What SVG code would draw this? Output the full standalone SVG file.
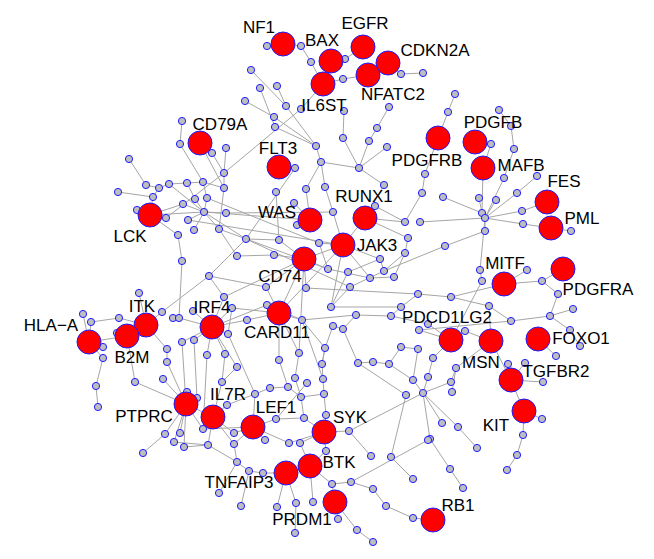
<svg xmlns="http://www.w3.org/2000/svg" width="654" height="559" viewBox="0 0 654 559">
<style>
.e path{stroke:#a6a6a6;stroke-width:1;fill:none}
.s{fill:#bebebe;stroke:#1c1cff;stroke-width:1}
.b{fill:#ff0000;stroke:#1c1cff;stroke-width:1}
.t{font-family:"Liberation Sans",Arial,Helvetica,sans-serif;font-size:17px;fill:#000;text-anchor:middle}
</style>
<rect width="654" height="559" fill="#fff"/>
<g id="edges" class="e">
<path d="M283,44L267,46M283,44L301,46M301,46L311,62M311,62L323,84M331,61L345,59M345,59L363,47M323,84L343,79M343,79L368,75M368,75L388,63M388,63L401,74M401,74L423,73M323,84L301,109M301,109L224,173M251,70L286,106M277,86L286,106M286,106L316,146M245,101L274,117M274,117L316,146M260,88L275,127M275,127L316,146M316,146L321,162M321,162L359,168M321,162L325,187M344,111L343,138M343,138L359,168M389,107L377,128M377,128L369,141M369,141L359,168M387,147L359,168M359,168L384,185M279,167L295,168M226,148L224,173M212,153L224,173M224,173L224,188M200,143L212,153M200,143L224,188M182,121L180,144M180,144L203,182M129,159L146,185M146,185L159,188M159,188L169,184M169,184L187,183M187,183L203,182M203,182L224,188M118,192L153,197M153,197L150,215M137,210L150,215M159,188L153,197"/>
<path d="M150,215L166,218M150,215L204,212M150,215L183,204M150,215L178,235M166,218L224,173M204,212L183,204M204,212L195,199M204,212L207,198M204,212L226,213M204,212L188,220M204,212L194,230M204,212L219,229M204,212L169,184M204,212L246,239M204,212L310,220M187,183L195,199M203,182L207,198M224,188L219,229M219,229L237,256M178,235L182,261M182,261L179,318M209,276L162,312M209,276L246,239M246,239L279,240M279,240L304,259M276,192L279,240M294,203L310,220M297,225L310,220M306,189L310,220M188,220L343,245M207,198L319,243M226,213L333,212M237,256L274,255M274,255L304,259M295,168L246,239M325,187L333,212M365,218L375,206M365,218L384,185M375,206L343,245M343,245L319,243M343,245L380,259M333,212L343,245M343,245L304,259M365,218L405,222M405,222L422,193M422,193L425,174M425,174L438,138M438,138L448,112M448,112L455,94M443,197L482,213M420,222L485,218M408,238L405,253M405,253L384,271M380,259L384,271M485,231L445,246M445,246L384,271"/>
<path d="M485,218L485,231M482,213L485,218M479,198L482,213M496,200L485,218M517,193L485,218M537,176L517,193M504,178L485,218M514,149L504,178M511,126L514,149M499,110L511,126M475,142L491,144M491,144L483,168M483,168L482,213M547,202L522,211M522,211L485,218M551,228L523,224M523,224L485,218M551,228L571,231M485,218L480,270M480,270L482,281M482,281L451,340M504,284L527,270M504,284L542,281M542,281L558,294M558,294L550,316M550,316L573,309M550,316L570,330M570,330L580,346M550,316L511,321M511,321L419,330M504,284L451,297M451,297L418,294M451,297L489,306M489,306L511,321M538,339L556,356M563,269L542,281M451,340L428,324M451,340L419,330M451,340L433,358M451,340L465,331M491,341L465,331M491,341L489,306M491,341L456,368M491,341L511,380M511,380L508,364M511,380L525,363M511,380L543,382M511,380L524,411M524,411L542,419M524,411L523,435M523,435L517,455M517,455L507,470"/>
<path d="M433,358L428,377M418,349L413,380M401,347L418,349M428,377L423,393M413,380L423,393M451,382L423,393M452,392L456,368M423,393L442,423M423,393L458,427M458,427L477,448M423,393L430,439M430,439L450,469M450,469L463,488M451,382L456,368M391,457L406,395M391,457L413,479M371,456L349,431M349,431L324,432M326,415L324,432M326,451L324,432M349,431L423,393M332,484L351,482M351,482L428,440M373,489L386,506M386,506L413,518M413,518L433,520M335,502L338,519M335,502L357,530M357,530L373,542M335,502L332,484M310,466L313,502M310,466L286,473M286,473L263,473M286,473L277,507M286,473L296,503M296,503L295,533M263,473L249,471M249,471L241,506M237,462L219,493M237,462L249,471M234,444L237,462M310,466L326,451M310,466L300,443M310,466L332,484M351,482L373,489"/>
<path d="M253,427L276,419M253,427L265,440M253,427L234,433M253,427L234,444M253,427L289,443M253,427L255,394M276,419L304,418M304,418L324,432M289,443L324,432M300,443L324,432M276,419L307,383M255,394L270,388M270,388L288,387M288,387L301,397M301,397L324,394M324,394L326,415M323,379L324,394M295,378L301,397M295,378L299,353M322,364L323,379M322,364L325,348M279,360L288,387M279,360L279,313M299,353L279,313M237,367L222,382M222,382L213,417M213,417L227,405M227,405L255,394M213,417L234,433M213,417L234,444M213,417L208,445M213,417L186,404M186,404L187,392M186,404L197,398M186,404L165,434M186,404L180,433M186,404L203,429M186,404L174,442M186,404L184,447M184,447L208,445M174,442L208,445M165,434L143,453M203,429L253,427M208,445L237,462"/>
<path d="M135,382L186,404M127,336L135,382M163,379L186,404M167,362L186,404M167,349L167,362M146,325L167,349M182,342L186,404M182,342L212,327M194,340L212,327M207,355L212,327M225,354L212,327M228,334L212,327M247,320L212,327M267,305L212,327M224,297L212,327M212,327L237,367M193,311L212,327M179,318L212,327M173,318L179,318M162,312L146,325M146,325L139,293M119,318L146,325M91,322L119,318M89,342L91,322M89,342L83,314M89,342L127,336M89,342L103,347M89,342L103,358M103,358L96,386M96,386L98,407M117,333L127,336M146,325L127,336"/>
<path d="M279,313L266,287M279,313L247,320M279,313L302,320M279,313L232,308M232,308L212,327M266,287L304,259M302,320L356,315M356,315L391,316M391,316L428,324M306,288L304,259M306,288L418,294M331,307L348,272M348,272L380,259M328,269L304,259M328,269L370,278M370,278L394,277M394,277L405,253M350,287L384,271M350,287L331,307M401,307L418,294M401,307L391,316M343,329L356,315M333,326L343,329M333,326L325,348M343,329L358,363M325,348L322,364M358,363L373,362M373,362L389,364M389,364L401,347M389,364L413,380M358,363L406,395M209,276L266,287M224,297L304,259M246,239L350,287M219,229L328,269M304,259L279,313M343,245L331,307M343,245L370,278M319,243L328,269M365,218L408,238M405,222L375,206M306,189L321,162"/>
<path d="M304,259L299,353M343,245L279,313M224,297L209,276M232,308L228,334M207,355L203,429M225,354L222,382M194,340L197,398M228,334L255,394M302,320L323,379M301,397L304,418M302,320L325,348M401,307L331,307M267,305L302,320"/>
</g>
<g id="small-nodes">
<g id="n1"><circle class="s" cx="267" cy="46" r="3.6"/></g>
<g id="n2"><circle class="s" cx="301" cy="46" r="3.6"/></g>
<g id="n3"><circle class="s" cx="311" cy="62" r="3.6"/></g>
<g id="n4"><circle class="s" cx="345" cy="59" r="3.6"/></g>
<g id="n5"><circle class="s" cx="343" cy="79" r="3.6"/></g>
<g id="n6"><circle class="s" cx="401" cy="74" r="3.6"/></g>
<g id="n7"><circle class="s" cx="423" cy="73" r="3.6"/></g>
<g id="n8"><circle class="s" cx="251" cy="70" r="3.6"/></g>
<g id="n9"><circle class="s" cx="260" cy="88" r="3.6"/></g>
<g id="n10"><circle class="s" cx="277" cy="86" r="3.6"/></g>
<g id="n11"><circle class="s" cx="245" cy="101" r="3.6"/></g>
<g id="n12"><circle class="s" cx="286" cy="106" r="3.6"/></g>
<g id="n13"><circle class="s" cx="301" cy="109" r="3.6"/></g>
<g id="n14"><circle class="s" cx="274" cy="117" r="3.6"/></g>
<g id="n15"><circle class="s" cx="275" cy="127" r="3.6"/></g>
<g id="n16"><circle class="s" cx="344" cy="111" r="3.6"/></g>
<g id="n17"><circle class="s" cx="389" cy="107" r="3.6"/></g>
<g id="n18"><circle class="s" cx="377" cy="128" r="3.6"/></g>
<g id="n19"><circle class="s" cx="369" cy="141" r="3.6"/></g>
<g id="n20"><circle class="s" cx="343" cy="138" r="3.6"/></g>
<g id="n21"><circle class="s" cx="387" cy="147" r="3.6"/></g>
<g id="n22"><circle class="s" cx="316" cy="146" r="3.6"/></g>
<g id="n23"><circle class="s" cx="321" cy="162" r="3.6"/></g>
<g id="n24"><circle class="s" cx="359" cy="168" r="3.6"/></g>
<g id="n25"><circle class="s" cx="295" cy="168" r="3.6"/></g>
<g id="n26"><circle class="s" cx="226" cy="148" r="3.6"/></g>
<g id="n27"><circle class="s" cx="182" cy="121" r="3.6"/></g>
<g id="n28"><circle class="s" cx="180" cy="144" r="3.6"/></g>
<g id="n29"><circle class="s" cx="212" cy="153" r="3.6"/></g>
<g id="n30"><circle class="s" cx="129" cy="159" r="3.6"/></g>
<g id="n31"><circle class="s" cx="224" cy="173" r="3.6"/></g>
<g id="n32"><circle class="s" cx="224" cy="188" r="3.6"/></g>
<g id="n33"><circle class="s" cx="146" cy="185" r="3.6"/></g>
<g id="n34"><circle class="s" cx="159" cy="188" r="3.6"/></g>
<g id="n35"><circle class="s" cx="169" cy="184" r="3.6"/></g>
<g id="n36"><circle class="s" cx="187" cy="183" r="3.6"/></g>
<g id="n37"><circle class="s" cx="203" cy="182" r="3.6"/></g>
<g id="n38"><circle class="s" cx="118" cy="192" r="3.6"/></g>
<g id="n39"><circle class="s" cx="153" cy="197" r="3.6"/></g>
<g id="n40"><circle class="s" cx="183" cy="204" r="3.6"/></g>
<g id="n41"><circle class="s" cx="195" cy="199" r="3.6"/></g>
<g id="n42"><circle class="s" cx="207" cy="198" r="3.6"/></g>
<g id="n43"><circle class="s" cx="204" cy="212" r="3.6"/></g>
<g id="n44"><circle class="s" cx="226" cy="213" r="3.6"/></g>
<g id="n45"><circle class="s" cx="137" cy="210" r="3.6"/></g>
<g id="n46"><circle class="s" cx="166" cy="218" r="3.6"/></g>
<g id="n47"><circle class="s" cx="188" cy="220" r="3.6"/></g>
<g id="n48"><circle class="s" cx="194" cy="230" r="3.6"/></g>
<g id="n49"><circle class="s" cx="219" cy="229" r="3.6"/></g>
<g id="n50"><circle class="s" cx="178" cy="235" r="3.6"/></g>
<g id="n51"><circle class="s" cx="246" cy="239" r="3.6"/></g>
<g id="n52"><circle class="s" cx="279" cy="240" r="3.6"/></g>
<g id="n53"><circle class="s" cx="276" cy="192" r="3.6"/></g>
<g id="n54"><circle class="s" cx="294" cy="203" r="3.6"/></g>
<g id="n55"><circle class="s" cx="237" cy="256" r="3.6"/></g>
<g id="n56"><circle class="s" cx="274" cy="255" r="3.6"/></g>
<g id="n57"><circle class="s" cx="182" cy="261" r="3.6"/></g>
<g id="n58"><circle class="s" cx="306" cy="189" r="3.6"/></g>
<g id="n59"><circle class="s" cx="325" cy="187" r="3.6"/></g>
<g id="n60"><circle class="s" cx="384" cy="185" r="3.6"/></g>
<g id="n61"><circle class="s" cx="422" cy="193" r="3.6"/></g>
<g id="n62"><circle class="s" cx="443" cy="197" r="3.6"/></g>
<g id="n63"><circle class="s" cx="425" cy="174" r="3.6"/></g>
<g id="n64"><circle class="s" cx="448" cy="112" r="3.6"/></g>
<g id="n65"><circle class="s" cx="455" cy="94" r="3.6"/></g>
<g id="n66"><circle class="s" cx="499" cy="110" r="3.6"/></g>
<g id="n67"><circle class="s" cx="511" cy="126" r="3.6"/></g>
<g id="n68"><circle class="s" cx="514" cy="149" r="3.6"/></g>
<g id="n69"><circle class="s" cx="491" cy="144" r="3.6"/></g>
<g id="n70"><circle class="s" cx="504" cy="178" r="3.6"/></g>
<g id="n71"><circle class="s" cx="537" cy="176" r="3.6"/></g>
<g id="n72"><circle class="s" cx="517" cy="193" r="3.6"/></g>
<g id="n73"><circle class="s" cx="479" cy="198" r="3.6"/></g>
<g id="n74"><circle class="s" cx="496" cy="200" r="3.6"/></g>
<g id="n75"><circle class="s" cx="482" cy="213" r="3.6"/></g>
<g id="n76"><circle class="s" cx="485" cy="218" r="3.6"/></g>
<g id="n77"><circle class="s" cx="522" cy="211" r="3.6"/></g>
<g id="n78"><circle class="s" cx="523" cy="224" r="3.6"/></g>
<g id="n79"><circle class="s" cx="571" cy="231" r="3.6"/></g>
<g id="n80"><circle class="s" cx="420" cy="222" r="3.6"/></g>
<g id="n81"><circle class="s" cx="485" cy="231" r="3.6"/></g>
<g id="n82"><circle class="s" cx="445" cy="246" r="3.6"/></g>
<g id="n83"><circle class="s" cx="405" cy="222" r="3.6"/></g>
<g id="n84"><circle class="s" cx="375" cy="206" r="3.6"/></g>
<g id="n85"><circle class="s" cx="333" cy="212" r="3.6"/></g>
<g id="n86"><circle class="s" cx="297" cy="225" r="3.6"/></g>
<g id="n87"><circle class="s" cx="319" cy="243" r="3.6"/></g>
<g id="n88"><circle class="s" cx="408" cy="238" r="3.6"/></g>
<g id="n89"><circle class="s" cx="405" cy="253" r="3.6"/></g>
<g id="n90"><circle class="s" cx="380" cy="259" r="3.6"/></g>
<g id="n91"><circle class="s" cx="328" cy="269" r="3.6"/></g>
<g id="n92"><circle class="s" cx="348" cy="272" r="3.6"/></g>
<g id="n93"><circle class="s" cx="384" cy="271" r="3.6"/></g>
<g id="n94"><circle class="s" cx="370" cy="278" r="3.6"/></g>
<g id="n95"><circle class="s" cx="394" cy="277" r="3.6"/></g>
<g id="n96"><circle class="s" cx="209" cy="276" r="3.6"/></g>
<g id="n97"><circle class="s" cx="266" cy="287" r="3.6"/></g>
<g id="n98"><circle class="s" cx="306" cy="288" r="3.6"/></g>
<g id="n99"><circle class="s" cx="350" cy="287" r="3.6"/></g>
<g id="n100"><circle class="s" cx="418" cy="294" r="3.6"/></g>
<g id="n101"><circle class="s" cx="224" cy="297" r="3.6"/></g>
<g id="n102"><circle class="s" cx="232" cy="308" r="3.6"/></g>
<g id="n103"><circle class="s" cx="267" cy="305" r="3.6"/></g>
<g id="n104"><circle class="s" cx="331" cy="307" r="3.6"/></g>
<g id="n105"><circle class="s" cx="401" cy="307" r="3.6"/></g>
<g id="n106"><circle class="s" cx="356" cy="315" r="3.6"/></g>
<g id="n107"><circle class="s" cx="391" cy="316" r="3.6"/></g>
<g id="n108"><circle class="s" cx="247" cy="320" r="3.6"/></g>
<g id="n109"><circle class="s" cx="302" cy="320" r="3.6"/></g>
<g id="n110"><circle class="s" cx="333" cy="326" r="3.6"/></g>
<g id="n111"><circle class="s" cx="343" cy="329" r="3.6"/></g>
<g id="n112"><circle class="s" cx="228" cy="334" r="3.6"/></g>
<g id="n113"><circle class="s" cx="419" cy="330" r="3.6"/></g>
<g id="n114"><circle class="s" cx="428" cy="324" r="3.6"/></g>
<g id="n115"><circle class="s" cx="207" cy="355" r="3.6"/></g>
<g id="n116"><circle class="s" cx="225" cy="354" r="3.6"/></g>
<g id="n117"><circle class="s" cx="237" cy="367" r="3.6"/></g>
<g id="n118"><circle class="s" cx="279" cy="360" r="3.6"/></g>
<g id="n119"><circle class="s" cx="299" cy="353" r="3.6"/></g>
<g id="n120"><circle class="s" cx="325" cy="348" r="3.6"/></g>
<g id="n121"><circle class="s" cx="322" cy="364" r="3.6"/></g>
<g id="n122"><circle class="s" cx="358" cy="363" r="3.6"/></g>
<g id="n123"><circle class="s" cx="373" cy="362" r="3.6"/></g>
<g id="n124"><circle class="s" cx="389" cy="364" r="3.6"/></g>
<g id="n125"><circle class="s" cx="401" cy="347" r="3.6"/></g>
<g id="n126"><circle class="s" cx="418" cy="349" r="3.6"/></g>
<g id="n127"><circle class="s" cx="433" cy="358" r="3.6"/></g>
<g id="n128"><circle class="s" cx="456" cy="368" r="3.6"/></g>
<g id="n129"><circle class="s" cx="480" cy="270" r="3.6"/></g>
<g id="n130"><circle class="s" cx="482" cy="281" r="3.6"/></g>
<g id="n131"><circle class="s" cx="451" cy="297" r="3.6"/></g>
<g id="n132"><circle class="s" cx="489" cy="306" r="3.6"/></g>
<g id="n133"><circle class="s" cx="465" cy="331" r="3.6"/></g>
<g id="n134"><circle class="s" cx="527" cy="270" r="3.6"/></g>
<g id="n135"><circle class="s" cx="542" cy="281" r="3.6"/></g>
<g id="n136"><circle class="s" cx="558" cy="294" r="3.6"/></g>
<g id="n137"><circle class="s" cx="573" cy="309" r="3.6"/></g>
<g id="n138"><circle class="s" cx="550" cy="316" r="3.6"/></g>
<g id="n139"><circle class="s" cx="511" cy="321" r="3.6"/></g>
<g id="n140"><circle class="s" cx="570" cy="330" r="3.6"/></g>
<g id="n141"><circle class="s" cx="580" cy="346" r="3.6"/></g>
<g id="n142"><circle class="s" cx="556" cy="356" r="3.6"/></g>
<g id="n143"><circle class="s" cx="508" cy="364" r="3.6"/></g>
<g id="n144"><circle class="s" cx="525" cy="363" r="3.6"/></g>
<g id="n145"><circle class="s" cx="543" cy="382" r="3.6"/></g>
<g id="n146"><circle class="s" cx="542" cy="419" r="3.6"/></g>
<g id="n147"><circle class="s" cx="523" cy="435" r="3.6"/></g>
<g id="n148"><circle class="s" cx="517" cy="455" r="3.6"/></g>
<g id="n149"><circle class="s" cx="507" cy="470" r="3.6"/></g>
<g id="n150"><circle class="s" cx="413" cy="380" r="3.6"/></g>
<g id="n151"><circle class="s" cx="428" cy="377" r="3.6"/></g>
<g id="n152"><circle class="s" cx="451" cy="382" r="3.6"/></g>
<g id="n153"><circle class="s" cx="452" cy="392" r="3.6"/></g>
<g id="n154"><circle class="s" cx="423" cy="393" r="3.6"/></g>
<g id="n155"><circle class="s" cx="406" cy="395" r="3.6"/></g>
<g id="n156"><circle class="s" cx="442" cy="423" r="3.6"/></g>
<g id="n157"><circle class="s" cx="458" cy="427" r="3.6"/></g>
<g id="n158"><circle class="s" cx="430" cy="439" r="3.6"/></g>
<g id="n159"><circle class="s" cx="477" cy="448" r="3.6"/></g>
<g id="n160"><circle class="s" cx="450" cy="469" r="3.6"/></g>
<g id="n161"><circle class="s" cx="413" cy="479" r="3.6"/></g>
<g id="n162"><circle class="s" cx="463" cy="488" r="3.6"/></g>
<g id="n163"><circle class="s" cx="413" cy="518" r="3.6"/></g>
<g id="n164"><circle class="s" cx="428" cy="440" r="3.6"/></g>
<g id="n165"><circle class="s" cx="139" cy="293" r="3.6"/></g>
<g id="n166"><circle class="s" cx="83" cy="314" r="3.6"/></g>
<g id="n167"><circle class="s" cx="91" cy="322" r="3.6"/></g>
<g id="n168"><circle class="s" cx="119" cy="318" r="3.6"/></g>
<g id="n169"><circle class="s" cx="162" cy="312" r="3.6"/></g>
<g id="n170"><circle class="s" cx="173" cy="318" r="3.6"/></g>
<g id="n171"><circle class="s" cx="179" cy="318" r="3.6"/></g>
<g id="n172"><circle class="s" cx="193" cy="311" r="3.6"/></g>
<g id="n173"><circle class="s" cx="117" cy="333" r="3.6"/></g>
<g id="n174"><circle class="s" cx="103" cy="347" r="3.6"/></g>
<g id="n175"><circle class="s" cx="103" cy="358" r="3.6"/></g>
<g id="n176"><circle class="s" cx="182" cy="342" r="3.6"/></g>
<g id="n177"><circle class="s" cx="194" cy="340" r="3.6"/></g>
<g id="n178"><circle class="s" cx="167" cy="349" r="3.6"/></g>
<g id="n179"><circle class="s" cx="167" cy="362" r="3.6"/></g>
<g id="n180"><circle class="s" cx="135" cy="382" r="3.6"/></g>
<g id="n181"><circle class="s" cx="163" cy="379" r="3.6"/></g>
<g id="n182"><circle class="s" cx="222" cy="382" r="3.6"/></g>
<g id="n183"><circle class="s" cx="96" cy="386" r="3.6"/></g>
<g id="n184"><circle class="s" cx="98" cy="407" r="3.6"/></g>
<g id="n185"><circle class="s" cx="187" cy="392" r="3.6"/></g>
<g id="n186"><circle class="s" cx="197" cy="398" r="3.6"/></g>
<g id="n187"><circle class="s" cx="255" cy="394" r="3.6"/></g>
<g id="n188"><circle class="s" cx="270" cy="388" r="3.6"/></g>
<g id="n189"><circle class="s" cx="288" cy="387" r="3.6"/></g>
<g id="n190"><circle class="s" cx="227" cy="405" r="3.6"/></g>
<g id="n191"><circle class="s" cx="165" cy="434" r="3.6"/></g>
<g id="n192"><circle class="s" cx="180" cy="433" r="3.6"/></g>
<g id="n193"><circle class="s" cx="203" cy="429" r="3.6"/></g>
<g id="n194"><circle class="s" cx="234" cy="433" r="3.6"/></g>
<g id="n195"><circle class="s" cx="174" cy="442" r="3.6"/></g>
<g id="n196"><circle class="s" cx="184" cy="447" r="3.6"/></g>
<g id="n197"><circle class="s" cx="208" cy="445" r="3.6"/></g>
<g id="n198"><circle class="s" cx="234" cy="444" r="3.6"/></g>
<g id="n199"><circle class="s" cx="265" cy="440" r="3.6"/></g>
<g id="n200"><circle class="s" cx="143" cy="453" r="3.6"/></g>
<g id="n201"><circle class="s" cx="237" cy="462" r="3.6"/></g>
<g id="n202"><circle class="s" cx="249" cy="471" r="3.6"/></g>
<g id="n203"><circle class="s" cx="263" cy="473" r="3.6"/></g>
<g id="n204"><circle class="s" cx="219" cy="493" r="3.6"/></g>
<g id="n205"><circle class="s" cx="241" cy="506" r="3.6"/></g>
<g id="n206"><circle class="s" cx="277" cy="507" r="3.6"/></g>
<g id="n207"><circle class="s" cx="296" cy="503" r="3.6"/></g>
<g id="n208"><circle class="s" cx="313" cy="502" r="3.6"/></g>
<g id="n209"><circle class="s" cx="295" cy="533" r="3.6"/></g>
<g id="n210"><circle class="s" cx="338" cy="519" r="3.6"/></g>
<g id="n211"><circle class="s" cx="357" cy="530" r="3.6"/></g>
<g id="n212"><circle class="s" cx="373" cy="542" r="3.6"/></g>
<g id="n213"><circle class="s" cx="386" cy="506" r="3.6"/></g>
<g id="n214"><circle class="s" cx="332" cy="484" r="3.6"/></g>
<g id="n215"><circle class="s" cx="351" cy="482" r="3.6"/></g>
<g id="n216"><circle class="s" cx="373" cy="489" r="3.6"/></g>
<g id="n217"><circle class="s" cx="371" cy="456" r="3.6"/></g>
<g id="n218"><circle class="s" cx="391" cy="457" r="3.6"/></g>
<g id="n219"><circle class="s" cx="349" cy="431" r="3.6"/></g>
<g id="n220"><circle class="s" cx="326" cy="451" r="3.6"/></g>
<g id="n221"><circle class="s" cx="289" cy="443" r="3.6"/></g>
<g id="n222"><circle class="s" cx="300" cy="443" r="3.6"/></g>
<g id="n223"><circle class="s" cx="276" cy="419" r="3.6"/></g>
<g id="n224"><circle class="s" cx="304" cy="418" r="3.6"/></g>
<g id="n225"><circle class="s" cx="326" cy="415" r="3.6"/></g>
<g id="n226"><circle class="s" cx="324" cy="394" r="3.6"/></g>
<g id="n227"><circle class="s" cx="301" cy="397" r="3.6"/></g>
<g id="n228"><circle class="s" cx="323" cy="379" r="3.6"/></g>
<g id="n229"><circle class="s" cx="307" cy="383" r="3.6"/></g>
<g id="n230"><circle class="s" cx="295" cy="378" r="3.6"/></g>
</g>
<g id="NF1"><circle class="b" cx="283" cy="44" r="12"/><text class="t" x="259" y="33">NF1</text></g>
<g id="EGFR"><circle class="b" cx="363" cy="47" r="12"/><text class="t" x="365" y="29">EGFR</text></g>
<g id="BAX"><circle class="b" cx="331" cy="61" r="12"/><text class="t" x="322" y="46">BAX</text></g>
<g id="CDKN2A"><circle class="b" cx="388" cy="63" r="12"/><text class="t" x="435" y="56">CDKN2A</text></g>
<g id="NFATC2"><circle class="b" cx="368" cy="75" r="12"/><text class="t" x="393" y="100">NFATC2</text></g>
<g id="IL6ST"><circle class="b" cx="323" cy="84" r="12"/><text class="t" x="324" y="111">IL6ST</text></g>
<g id="CD79A"><circle class="b" cx="200" cy="143" r="12"/><text class="t" x="220" y="130">CD79A</text></g>
<g id="FLT3"><circle class="b" cx="279" cy="167" r="12"/><text class="t" x="278" y="154">FLT3</text></g>
<g id="PDGFRB"><circle class="b" cx="438" cy="138" r="12"/><text class="t" x="427" y="166">PDGFRB</text></g>
<g id="PDGFB"><circle class="b" cx="475" cy="142" r="12"/><text class="t" x="493" y="128">PDGFB</text></g>
<g id="MAFB"><circle class="b" cx="483" cy="168" r="12"/><text class="t" x="521" y="171">MAFB</text></g>
<g id="FES"><circle class="b" cx="547" cy="202" r="12"/><text class="t" x="564" y="187">FES</text></g>
<g id="PML"><circle class="b" cx="551" cy="228" r="12"/><text class="t" x="582" y="224">PML</text></g>
<g id="RUNX1"><circle class="b" cx="365" cy="218" r="12"/><text class="t" x="364" y="202">RUNX1</text></g>
<g id="WAS"><circle class="b" cx="310" cy="220" r="12"/><text class="t" x="277" y="218">WAS</text></g>
<g id="JAK3"><circle class="b" cx="343" cy="245" r="12"/><text class="t" x="377" y="251">JAK3</text></g>
<g id="CD74"><circle class="b" cx="304" cy="259" r="12"/><text class="t" x="280" y="282">CD74</text></g>
<g id="LCK"><circle class="b" cx="150" cy="215" r="12"/><text class="t" x="130" y="242">LCK</text></g>
<g id="MITF"><circle class="b" cx="504" cy="284" r="12"/><text class="t" x="505" y="269">MITF</text></g>
<g id="PDGFRA"><circle class="b" cx="563" cy="269" r="12"/><text class="t" x="598" y="295">PDGFRA</text></g>
<g id="HLA-A"><circle class="b" cx="89" cy="342" r="12"/><text class="t" x="51" y="331">HLA−A</text></g>
<g id="ITK"><circle class="b" cx="146" cy="325" r="12"/><text class="t" x="142" y="312">ITK</text></g>
<g id="B2M"><circle class="b" cx="127" cy="336" r="12"/><text class="t" x="132" y="363">B2M</text></g>
<g id="IRF4"><circle class="b" cx="212" cy="327" r="12"/><text class="t" x="212" y="313">IRF4</text></g>
<g id="CARD11"><circle class="b" cx="279" cy="313" r="12"/><text class="t" x="277" y="338">CARD11</text></g>
<g id="PDCD1LG2"><circle class="b" cx="451" cy="340" r="12"/><text class="t" x="447" y="323">PDCD1LG2</text></g>
<g id="MSN"><circle class="b" cx="491" cy="341" r="12"/><text class="t" x="481" y="368">MSN</text></g>
<g id="FOXO1"><circle class="b" cx="538" cy="339" r="12"/><text class="t" x="581" y="344">FOXO1</text></g>
<g id="TGFBR2"><circle class="b" cx="511" cy="380" r="12"/><text class="t" x="556" y="377">TGFBR2</text></g>
<g id="KIT"><circle class="b" cx="524" cy="411" r="12"/><text class="t" x="496" y="431">KIT</text></g>
<g id="PTPRC"><circle class="b" cx="186" cy="404" r="12"/><text class="t" x="144" y="422">PTPRC</text></g>
<g id="IL7R"><circle class="b" cx="213" cy="417" r="12"/><text class="t" x="228" y="400">IL7R</text></g>
<g id="LEF1"><circle class="b" cx="253" cy="427" r="12"/><text class="t" x="276" y="413">LEF1</text></g>
<g id="SYK"><circle class="b" cx="324" cy="432" r="12"/><text class="t" x="350" y="423">SYK</text></g>
<g id="TNFAIP3"><circle class="b" cx="286" cy="473" r="12"/><text class="t" x="239" y="488">TNFAIP3</text></g>
<g id="BTK"><circle class="b" cx="310" cy="466" r="12"/><text class="t" x="339" y="468">BTK</text></g>
<g id="PRDM1"><circle class="b" cx="335" cy="502" r="12"/><text class="t" x="302" y="525">PRDM1</text></g>
<g id="RB1"><circle class="b" cx="433" cy="520" r="12"/><text class="t" x="458" y="511">RB1</text></g>
</svg>
